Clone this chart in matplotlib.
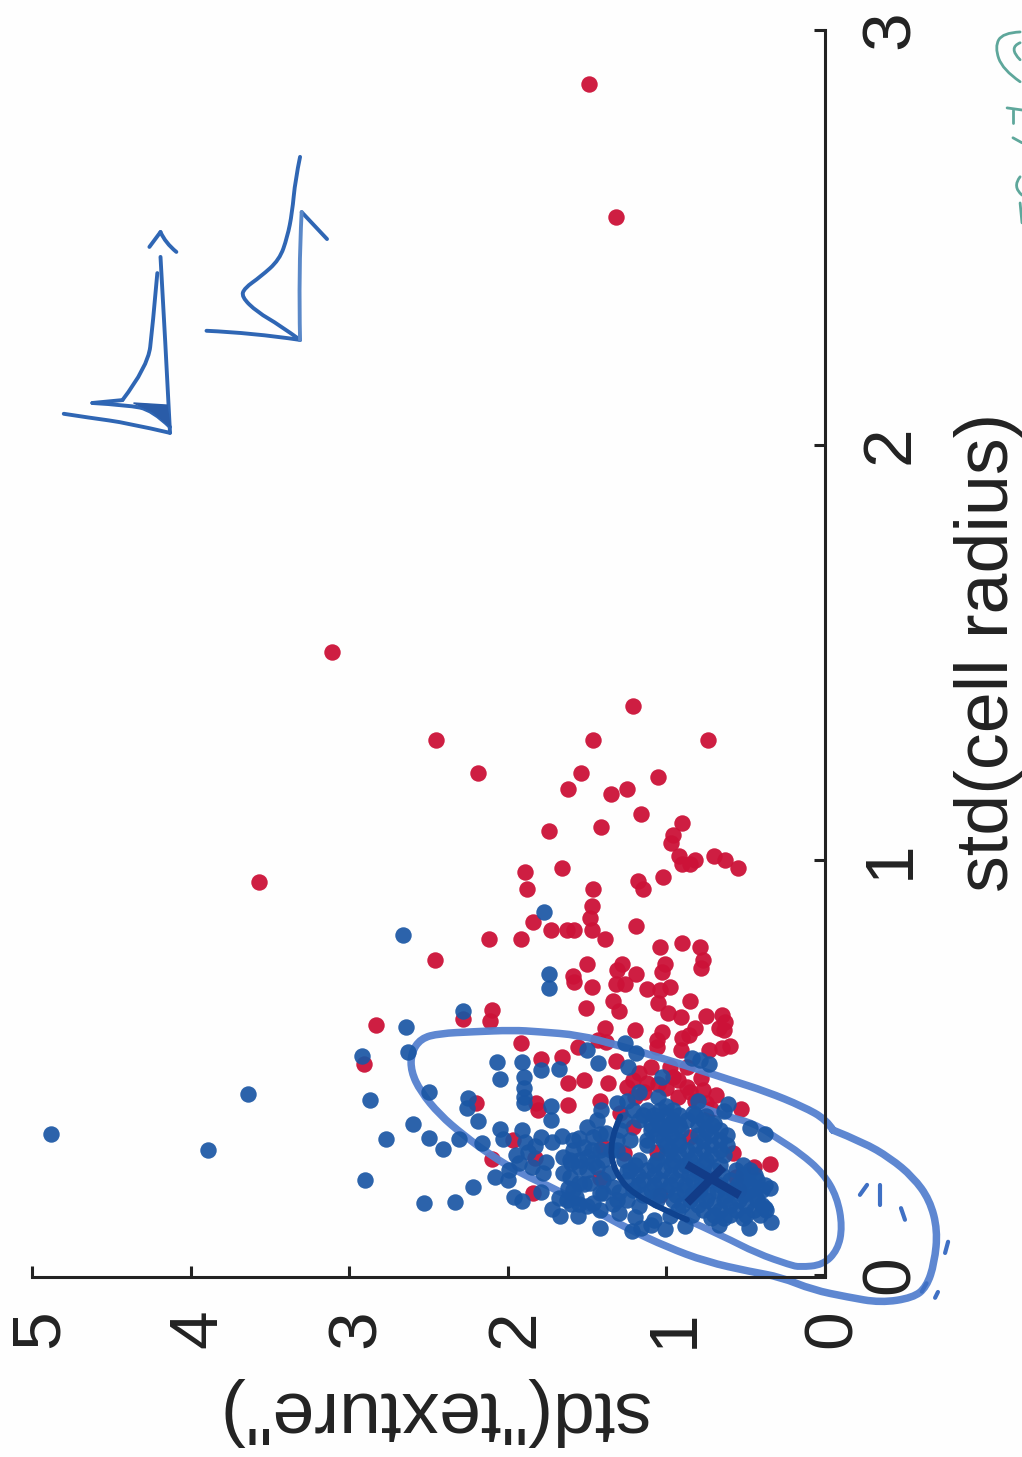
import matplotlib
matplotlib.use('Agg')
import matplotlib.pyplot as plt
from matplotlib.path import Path
from matplotlib.patches import PathPatch
from matplotlib.transforms import ScaledTranslation

plt.rcParams['font.family'] = ['Liberation Sans', 'DejaVu Sans']

# (std texture, std radius)
red_t = [3.11, 1.21, 2.45, 1.46, 0.74, 2.19, 1.54, 1.05, 1.62, 1.35, 1.25, 1.16, 0.90, 1.74, 1.41, 0.96, 0.97,
         0.92, 0.82, 0.90, 0.85, 0.70, 0.63, 0.55, 1.89, 1.66, 1.88, 1.18, 1.15, 1.02, 1.46, 1.47, 1.48, 1.47,
         1.39, 1.19, 1.84, 1.73, 1.63, 1.58, 1.92, 2.12, 2.46, 1.50, 1.04, 0.90, 0.79, 0.77, 0.78, 1.01, 1.03,
         1.28, 1.31, 1.19, 1.59, 3.57, 1.49, 1.32,
         1.58, 1.47, 1.32, 1.26, 1.12, 0.98, 1.04, 1.34, 1.30, 1.51, 1.05, 0.99, 0.91, 0.85, 0.75, 0.65, 0.63,
         0.64, 0.67, 0.82, 0.86, 0.90, 0.91, 0.73, 0.65, 0.60, 1.03, 1.06, 1.06, 1.20, 1.39, 1.43, 1.38, 1.56,
         1.92, 2.10, 2.11, 2.28, 2.83, 2.91, 1.79, 1.66, 1.32, 1.62, 1.52, 1.37, 1.62, 1.82, 1.81, 2.20, 1.42,
         1.25, 1.17, 1.21, 1.12, 0.98, 0.87, 0.96, 0.87, 0.78, 0.77, 0.69, 0.75, 0.93, 1.00, 0.53, 0.58, 0.35,
         2.10, 1.83, 1.84, 1.97, 1.42, 0.85, 1.27, 1.06, 1.40, 1.29, 0.45, 0.56, 1.21, 0.54, 1.04,
         1.10, 1.05, 1.14, 0.93, 0.85, 0.82, 0.72, 1.20]
red_r = [1.50, 1.37, 1.29, 1.29, 1.29, 1.21, 1.21, 1.20, 1.17, 1.16, 1.17, 1.11, 1.09, 1.07, 1.08, 1.06, 1.04,
         1.01, 1.00, 0.99, 0.99, 1.01, 1.00, 0.98, 0.97, 0.98, 0.93, 0.95, 0.93, 0.96, 0.93, 0.89, 0.86, 0.83,
         0.81, 0.84, 0.85, 0.83, 0.83, 0.83, 0.81, 0.81, 0.76, 0.75, 0.79, 0.80, 0.79, 0.76, 0.74, 0.75, 0.73,
         0.75, 0.735, 0.725, 0.72, 0.947, 2.87, 2.55,
         0.707, 0.695, 0.70, 0.70, 0.688, 0.695, 0.687, 0.659, 0.635, 0.643, 0.655, 0.632, 0.621, 0.660, 0.625,
         0.627, 0.610, 0.590, 0.594, 0.594, 0.578, 0.570, 0.542, 0.542, 0.546, 0.552, 0.586, 0.566, 0.549, 0.590,
         0.594, 0.566, 0.562, 0.549, 0.560, 0.639, 0.612, 0.616, 0.602, 0.509, 0.520, 0.524, 0.516, 0.462, 0.470,
         0.462, 0.410, 0.414, 0.398, 0.414, 0.418, 0.454, 0.486, 0.470, 0.462, 0.502, 0.502, 0.478, 0.454, 0.474,
         0.446, 0.434, 0.414, 0.430, 0.450, 0.400, 0.293, 0.268, 0.279, 0.281, 0.197, 0.325, 0.233, 0.333, 0.293,
         0.297, 0.309, 0.390, 0.261, 0.237, 0.357, 0.205, 0.193,
         0.50, 0.46, 0.44, 0.47, 0.44, 0.42, 0.40, 0.43]

blue_t = [1.77, 2.66, 1.74, 4.88, 3.89, 3.64,
          1.74, 2.28, 2.64, 2.63, 2.92, 2.87, 2.50, 2.25, 2.26, 2.19, 2.60, 2.77, 2.50, 2.41, 2.31, 2.16, 2.05,
          2.03, 2.90, 2.22, 2.33, 2.53, 2.07, 2.05, 1.91, 1.90, 1.90, 1.90, 1.90, 1.79, 1.68, 1.50, 1.43, 1.26,
          1.19, 1.24, 0.84, 0.79, 0.73, 1.03, 1.17, 1.05, 0.80, 0.61, 0.64, 0.47, 0.38, 1.31, 1.25, 1.41, 1.73,
          1.73, 1.66, 1.79, 1.91, 1.89, 1.95, 1.87, 1.76, 1.78, 1.99, 2.08, 2.00, 1.96, 1.91, 1.79, 1.68, 1.67,
          1.56, 1.42, 1.22, 1.16, 1.01, 0.88, 0.67, 0.48, 0.34, 0.35, 0.38,
          1.21, 1.12, 1.04, 0.96, 1.27, 1.17, 1.06, 0.96, 0.87, 0.77, 1.29, 1.10, 1.00, 0.91, 0.75, 0.66,
          1.31, 1.23, 1.12, 1.02, 0.93, 0.77, 0.66, 1.31, 0.98, 0.87, 0.77, 0.66, 1.17, 1.06, 0.96, 0.85, 0.75,
          1.23, 1.12, 1.02, 0.91, 0.81, 0.70, 0.56, 0.47, 1.25, 1.15, 1.04, 0.94, 0.83, 0.72, 0.60, 0.51, 0.43,
          1.21, 1.10, 1.00, 0.89, 0.79, 0.68, 0.58, 0.47, 0.40, 1.06, 0.96, 0.85, 0.75, 0.64, 0.54, 0.43,
          0.93, 0.77, 0.66, 0.56, 0.45, 0.37, 0.72, 0.64, 0.52, 1.08, 0.98,
          1.50, 1.44, 1.46, 1.38, 1.59, 1.65, 1.50, 1.40, 1.36, 1.61, 1.50, 1.48, 1.57, 1.46, 1.34, 1.25, 1.17,
          1.40, 1.42,
          1.15, 1.08, 1.00, 0.92, 0.82, 1.10, 1.04, 0.98, 0.92, 0.80, 0.71, 1.06, 0.97, 0.80, 0.72, 0.62,
          1.12, 1.00, 0.92, 0.82, 0.72, 0.62, 1.00, 0.92, 0.82, 0.72, 0.64,
          1.20, 1.08, 0.97, 0.88, 0.76, 0.66, 0.52, 1.18, 1.08, 0.97, 0.86, 0.76, 0.65, 0.52, 0.44,
          1.18, 1.08, 0.98, 0.88, 0.78, 0.66, 0.55, 0.47, 0.38, 1.15, 1.05, 0.94, 0.84, 0.74, 0.63, 0.52, 0.44,
          0.90, 0.80, 0.70, 0.60, 0.50, 0.40, 0.84, 0.70, 0.60, 0.50, 0.41,
          1.55, 1.47, 1.55, 1.44, 1.60, 1.52, 1.40, 1.55, 1.34, 1.35, 1.42, 1.30, 1.20, 1.10, 1.30, 1.25,
          1.83, 1.72, 1.93, 1.85, 1.62, 1.60, 1.72,
          1.59, 1.52, 1.42, 1.61, 1.55, 1.46, 1.65, 1.55, 1.42, 1.31, 1.59, 1.63, 1.50, 1.27, 1.00, 0.75, 0.70, 0.83]
blue_r = [0.875, 0.82, 0.725, 0.34, 0.30, 0.436,
          0.691, 0.635, 0.598, 0.538, 0.528, 0.422, 0.440, 0.426, 0.402, 0.371, 0.364, 0.328, 0.329, 0.304, 0.327,
          0.317, 0.352, 0.327, 0.229, 0.212, 0.176, 0.173, 0.512, 0.471, 0.514, 0.478, 0.450, 0.430, 0.414, 0.494,
          0.496, 0.541, 0.510, 0.558, 0.534, 0.502, 0.522, 0.518, 0.508, 0.478, 0.442, 0.430, 0.418, 0.412, 0.394,
          0.353, 0.340, 0.414, 0.418, 0.398, 0.406, 0.374, 0.335, 0.333, 0.349, 0.321, 0.289, 0.297, 0.273, 0.245,
          0.253, 0.237, 0.229, 0.187, 0.179, 0.201, 0.185, 0.143, 0.143, 0.113, 0.105, 0.113, 0.110, 0.119, 0.121,
          0.114, 0.127, 0.209, 0.161,
          0.398, 0.398, 0.398, 0.398, 0.374, 0.374, 0.374, 0.374, 0.374, 0.374, 0.349, 0.349, 0.349, 0.349, 0.349,
          0.349, 0.325, 0.325, 0.325, 0.325, 0.325, 0.325, 0.325, 0.301, 0.301, 0.301, 0.301, 0.301, 0.277, 0.277,
          0.277, 0.277, 0.277, 0.253, 0.253, 0.253, 0.253, 0.253, 0.253, 0.253, 0.253, 0.229, 0.229, 0.229, 0.229,
          0.229, 0.229, 0.229, 0.229, 0.229, 0.205, 0.205, 0.205, 0.205, 0.205, 0.205, 0.205, 0.205, 0.205, 0.181,
          0.181, 0.181, 0.181, 0.181, 0.181, 0.181, 0.157, 0.157, 0.157, 0.157, 0.157, 0.157, 0.137, 0.137, 0.137,
          0.133, 0.141,
          0.357, 0.374, 0.333, 0.341, 0.301, 0.285, 0.285, 0.277, 0.245, 0.237, 0.253, 0.221, 0.189, 0.173, 0.213,
          0.181, 0.165, 0.197, 0.157,
          0.386, 0.386, 0.386, 0.386, 0.386, 0.362, 0.362, 0.362, 0.362, 0.362, 0.362, 0.337, 0.337, 0.337, 0.337, 0.337,
          0.313, 0.313, 0.313, 0.313, 0.313, 0.313, 0.289, 0.289, 0.289, 0.289, 0.289,
          0.265, 0.265, 0.265, 0.265, 0.265, 0.265, 0.265, 0.241, 0.241, 0.241, 0.241, 0.241, 0.241, 0.241, 0.241,
          0.217, 0.217, 0.217, 0.217, 0.217, 0.217, 0.217, 0.217, 0.217, 0.193, 0.193, 0.193, 0.193, 0.193, 0.193, 0.193, 0.193,
          0.169, 0.169, 0.169, 0.169, 0.169, 0.169, 0.145, 0.145, 0.145, 0.145, 0.145,
          0.33, 0.30, 0.26, 0.26, 0.27, 0.22, 0.23, 0.17, 0.17, 0.30, 0.34, 0.15, 0.14, 0.12, 0.20, 0.25,
          0.31, 0.32, 0.27, 0.26, 0.21, 0.17, 0.16,
          0.325, 0.309, 0.301, 0.277, 0.277, 0.269, 0.245, 0.221, 0.197, 0.181, 0.205, 0.181, 0.165, 0.277, 0.406, 0.382, 0.366, 0.390]

# pen strokes
outer_t = [-0.05, -0.24, -0.41, -0.555, -0.66, -0.71, -0.69, -0.64, -0.555, -0.35, -0.14, 0.076, 0.28, 0.47, 0.75,
           1.0, 1.23, 1.46, 1.69, 1.92, 2.11, 2.28, 2.43, 2.55, 2.61, 2.61, 2.55, 2.43, 2.22, 1.97, 1.80, 1.55, 1.31,
           1.06, 0.79, 0.60, 0.37, 0.14, -0.01, -0.05]
outer_r = [0.349, 0.320, 0.282, 0.236, 0.181, 0.108, 0.029, -0.029, -0.055, -0.067, -0.053, -0.036, -0.005, 0.008,
           0.032, 0.068, 0.109, 0.157, 0.205, 0.245, 0.289, 0.337, 0.386, 0.442, 0.490, 0.534, 0.570, 0.582, 0.586,
           0.590, 0.586, 0.578, 0.554, 0.526, 0.494, 0.470, 0.442, 0.406, 0.374, 0.349]
inner_t = [0.87, 0.64, 0.43, 0.22, 0.16, 0.013, -0.08, -0.11, -0.076, 0.013, 0.158, 0.284, 0.45, 0.62, 0.79]
inner_r = [0.133, 0.093, 0.052, 0.024, 0.019, 0.024, 0.060, 0.116, 0.188, 0.246, 0.294, 0.325, 0.366, 0.382, 0.406]
arc_t = [1.29, 1.36, 1.33, 1.17, 0.87]
arc_r = [0.382, 0.325, 0.245, 0.181, 0.133]
cross_a_t = [0.85, 0.56]
cross_a_r = [0.261, 0.197]
cross_b_t = [0.66, 0.85]
cross_b_r = [0.253, 0.181]

dash_t = [[-0.22, -0.265], [-0.347, -0.347], [-0.504, -0.479], [-0.757, -0.776], [-0.694, -0.712], [-0.61, -0.64]]
dash_r = [[0.193, 0.217], [0.169, 0.217], [0.133, 0.161], [0.053, 0.080], [-0.055, -0.041], [-0.04, -0.02]]

ink_t = [[4.80, 4.63, 4.40, 4.13], [4.13, 4.16, 4.19], [4.21, 4.24, 4.27, 4.43], [4.43, 4.62], [4.62, 4.40, 4.24, 4.13],
         [4.26, 4.19], [4.19, 4.16, 4.09],
         [3.31, 3.34, 3.36, 3.39, 3.44, 3.56, 3.66, 3.68, 3.58, 3.44, 3.31], [3.31, 3.61, 3.90], [3.14, 3.30]]
ink_r = [[2.075, 2.065, 2.053, 2.029], [2.029, 2.253, 2.453], [2.414, 2.284, 2.188, 2.108], [2.108, 2.101],
         [2.101, 2.096, 2.084, 2.043], [2.477, 2.513], [2.513, 2.487, 2.465],
         [2.694, 2.639, 2.559, 2.501, 2.446, 2.405, 2.378, 2.357, 2.320, 2.289, 2.253], [2.253, 2.270, 2.275],
         [2.496, 2.561]]
pale_t = [3.31, 3.32, 3.30]
pale_r = [2.253, 2.414, 2.561]
smear_t = [4.36, 4.15, 4.13, 4.24, 4.36]
smear_r = [2.101, 2.096, 2.045, 2.080, 2.101]

# green note cut off at the right edge
note_t = [[-1.23, -1.12, -1.07, -1.12, -1.23], [-1.23, -1.154, -1.23], [-1.148, -1.242], [-1.185, -1.185],
          [-1.242, -1.185], [-1.23, -1.18, -1.242], [-1.23, -1.242]]
note_r = [[2.995, 2.993, 2.959, 2.904, 2.875], [2.969, 2.957, 2.928], [2.812, 2.807], [2.807, 2.776],
          [2.728, 2.740], [2.646, 2.622, 2.602], [2.583, 2.535]]

x_ticks = [0, 1, 2, 3, 4, 5]
y_ticks = [0, 1, 2, 3]

RED = '#cc1238'
BLUE = '#1a56a4'
PEN = '#5581cf'
INK = '#2f66b4'
TXT = '#222222'


# draws a hand stroke, the picked points act as bezier controls
def pen(ax, t, r, color, lw, zorder=3, alpha=1.0):
    pts = list(zip(t, r))
    verts = [pts[0]]
    codes = [Path.MOVETO]
    for i in range(1, len(pts) - 1):
        if i == len(pts) - 2:
            end = pts[i + 1]
        else:
            end = ((pts[i][0] + pts[i + 1][0]) / 2, (pts[i][1] + pts[i + 1][1]) / 2)
        verts += [pts[i], end]
        codes += [Path.CURVE3, Path.CURVE3]
    if len(pts) == 2:
        verts.append(pts[1])
        codes.append(Path.LINETO)
    ax.add_patch(PathPatch(Path(verts, codes), fill=False, edgecolor=color, lw=lw, alpha=alpha,
                           capstyle='round', joinstyle='round', zorder=zorder))


fig = plt.figure(figsize=(10.22, 14.57), dpi=100, facecolor='#fefefe')
ax = fig.add_axes([0, 0, 1, 1])
ax.set_facecolor('#fefefe')
ax.set_xlim(5.202, -1.242)
ax.set_ylim(-0.4386, 3.072)

ax.scatter(red_t, red_r, s=140, color=RED, alpha=0.95, linewidths=0, zorder=2)
pen(ax, outer_t, outer_r, PEN, 5.4, alpha=0.95)
pen(ax, inner_t, inner_r, PEN, 5.0, alpha=0.95)
ax.scatter(blue_t, blue_r, s=140, color=BLUE, alpha=0.92, linewidths=0, zorder=4)
pen(ax, arc_t, arc_r, '#0f4390', 4.2, zorder=5)
ax.plot(cross_a_t, cross_a_r, color='#123c88', lw=6, zorder=5)
ax.plot(cross_b_t, cross_b_r, color='#123c88', lw=6, zorder=5)

for t, r in zip(dash_t, dash_r):
    ax.plot(t, r, color='#3f70c4', lw=3, solid_capstyle='round', zorder=3)

for t, r in zip(ink_t, ink_r):
    pen(ax, t, r, INK, 2.8)
pen(ax, pale_t, pale_r, '#5a88c8', 2.8)
ax.fill(smear_t, smear_r, color='#2a5ca8', zorder=3)

for t, r in zip(note_t, note_r):
    pen(ax, t, r, '#5ea79b', 2.0)

ax.spines['top'].set_visible(False)
ax.spines['left'].set_visible(False)
ax.spines['bottom'].set_position(('data', -0.005))
ax.spines['bottom'].set_bounds(0, 5)
ax.spines['right'].set_position(('data', 0))
ax.spines['right'].set_bounds(0, 3)
for name in ['bottom', 'right']:
    ax.spines[name].set_linewidth(2.2)
    ax.spines[name].set_color(TXT)
    ax.spines[name].set_zorder(6)

ax.yaxis.tick_right()
ax.set_xticks(x_ticks)
ax.set_yticks(y_ticks)
ax.tick_params(axis='x', direction='in', length=8, width=2.2, color=TXT, pad=23,
               labelsize=50, labelrotation=90, labelcolor=TXT)
ax.tick_params(axis='y', direction='in', length=8, width=2.2, color=TXT, pad=24,
               labelsize=50, labelrotation=90, labelcolor=TXT)
for lab in ax.get_yticklabels():
    lab.set_va('center')
for lab in ax.get_xticklabels():
    lab.set_transform(lab.get_transform() + ScaledTranslation(0.08, 0, fig.dpi_scale_trans))

ax.text(-1.03, 1.50, 'std(cell radius)', rotation=90, ha='center', va='center', fontsize=53, color=TXT)
ax.text(2.48, -0.33, 'std("texture")', rotation=180, ha='center', va='center', fontsize=54, color=TXT)

fig.savefig('out.png', dpi=100, facecolor=fig.get_facecolor())
